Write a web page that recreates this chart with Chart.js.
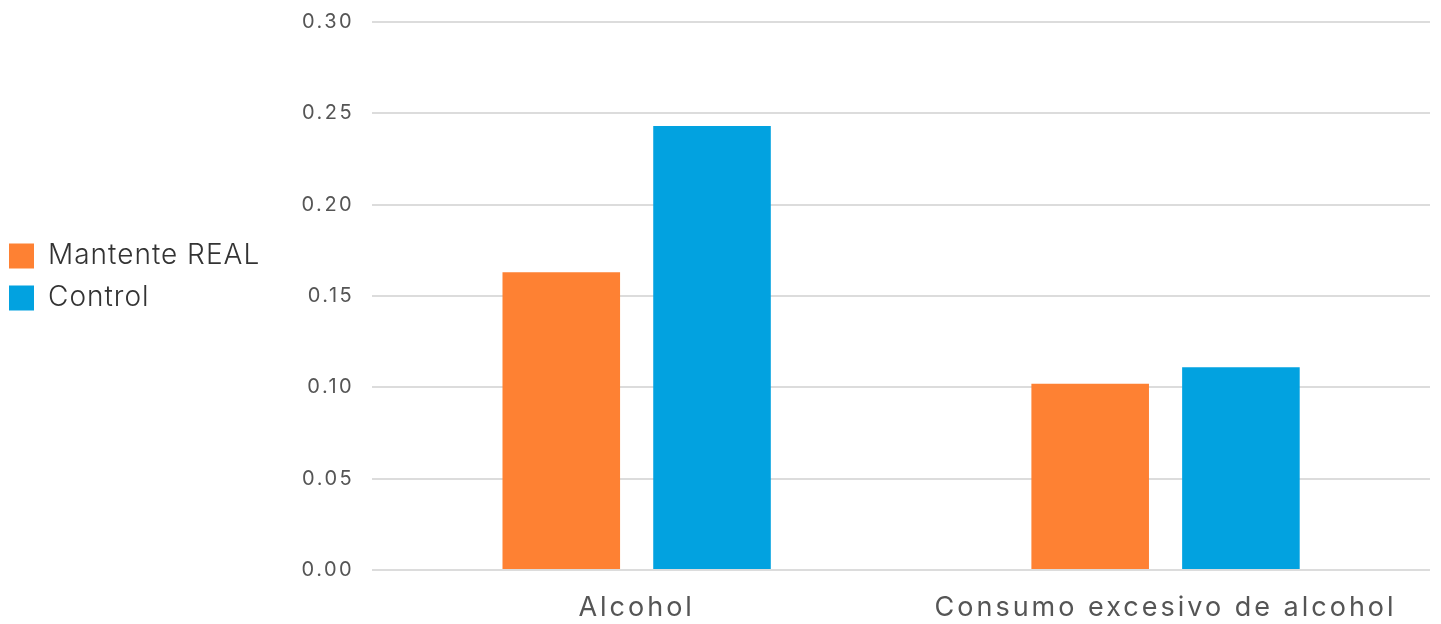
<!DOCTYPE html>
<html><head><meta charset="utf-8">
<script src="https://cdn.jsdelivr.net/npm/chart.js@4"></script>
<style>html,body{margin:0;padding:0;background:#fff}#wrap{width:1441px;height:624px}</style>
</head><body><div id="wrap"><canvas id="c" width="1441" height="624"></canvas></div>
<script>
const categories = ["Alcohol", "Consumo excesivo de alcohol"];
const seriesNames = ["Mantente REAL", "Control"];
const mantenteReal = [0.163, 0.102];
const control = [0.243, 0.111];
const colors = ["#FE8133", "#02A2E0"];

function withSpacing(obj, method, spacing) {
  if (!obj || obj['__patched_' + method]) return;
  const orig = obj[method].bind(obj);
  obj[method] = function (...args) {
    const ctx = obj.ctx;
    ctx.save();
    ctx.letterSpacing = spacing;
    orig(...args);
    ctx.restore();
  };
  obj['__patched_' + method] = true;
}

const spacingPlugin = {
  id: 'spacing',
  afterLayout(chart) {
    withSpacing(chart.scales.x, 'drawLabels', '3px');
    withSpacing(chart.scales.y, 'drawLabels', '2.5px');
    withSpacing(chart.legend, 'draw', '1px');
    const lg = chart.legend;
    lg.left -= 5;
    lg.bottom -= 88;
  }
};

new Chart(document.getElementById('c'), {
  type: 'bar',
  data: {
    labels: categories,
    datasets: [
      {label: seriesNames[0], data: mantenteReal, backgroundColor: colors[0], borderWidth: 0},
      {label: seriesNames[1], data: control, backgroundColor: colors[1], borderWidth: 0}
    ]
  },
  plugins: [spacingPlugin],
  options: {
    responsive: false,
    animation: false,
    layout: {padding: {top: 22, right: 11, bottom: 4, left: 0}},
    datasets: {bar: {categoryPercentage: 0.57, barPercentage: 0.78}},
    plugins: {
      tooltip: {enabled: false},
      legend: {
        position: 'left',
        align: 'center',
        labels: {
          boxWidth: 25, boxHeight: 25, padding: 14,
          color: '#333',
          font: {family: 'Inter', size: 28, weight: '300'}
        }
      }
    },
    scales: {
      x: {
        afterFit: (s) => { s.height = 50; },
        grid: {display: false},
        border: {display: false},
        ticks: {color: '#555', padding: 14, font: {family: 'Inter', size: 27, weight: '400'}}
      },
      y: {
        min: 0, max: 0.30,
        afterFit: (s) => { s.width = 110; s.paddingTop = 0; s.paddingBottom = 0; },
        border: {display: false},
        grid: {color: '#dcdcdc', lineWidth: 2, drawTicks: false},
        ticks: {stepSize: 0.05, padding: 18, color: '#555',
          font: {family: 'Inter', size: 20, weight: '400', lineHeight: 0.2},
          callback: (v) => Number(v).toFixed(2)}
      }
    }
  }
});
</script></body></html>
